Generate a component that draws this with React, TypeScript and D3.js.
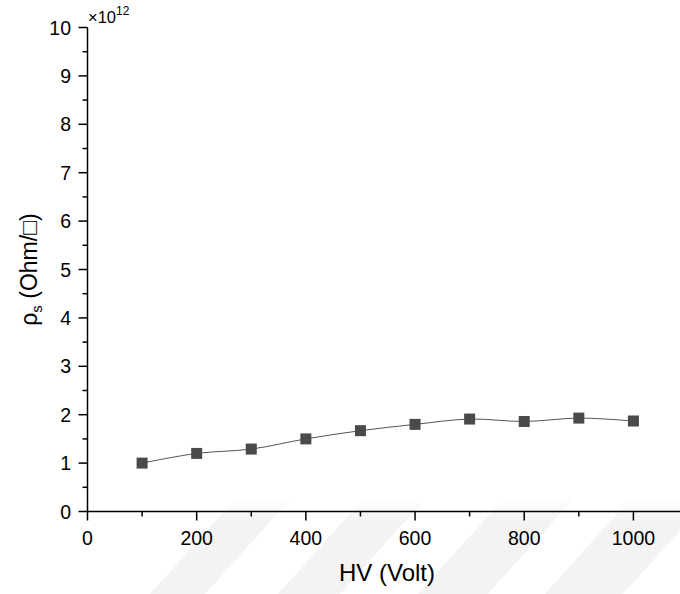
import React from 'react'
import * as d3 from 'd3'

const width = 680
const height = 594

// HV (Volt) vs surface resistivity, values in units of 1e12 Ohm/sq
const voltages = [100, 200, 300, 400, 500, 600, 700, 800, 900, 1000]
const resistivity = [1.0, 1.2, 1.29, 1.5, 1.67, 1.8, 1.91, 1.86, 1.93, 1.87]
const xTicks = [0, 200, 400, 600, 800, 1000]
const yTicks = [0, 1, 2, 3, 4, 5, 6, 7, 8, 9, 10]

const x = d3.scaleLinear().domain([0, 1100]).range([87.5, 688])
const y = d3.scaleLinear().domain([0, 10]).range([511.5, 27.5])

const font = '"Liberation Sans", Arial, sans-serif'

// faint watermark bands along the bottom edge: [left, right] at the bottom
const stripes: [number, number][] = [
    [150, 205],
    [278, 340],
    [418, 488],
    [545, 623],
]

const App = () => {
    const pts: [number, number][] = voltages.map((v, i) => [x(v), y(resistivity[i])])
    const line = d3.line().curve(d3.curveCatmullRom.alpha(0.5))(pts) || ''
    const xMinor = d3.range(100, 1100, 200)
    const yMinor = d3.range(0.5, 10, 1)
    const x0 = x(0)
    const y0 = y(0)

    return (
        <svg width={width} height={height} style={{ position: 'absolute', left: 0, top: 0 }}>
            <defs>
                <linearGradient id="fade" x1="0" y1="0" x2="0" y2="1">
                    <stop offset="0" stopColor="#f3f3f3" stopOpacity={0} />
                    <stop offset="0.25" stopColor="#f3f3f3" stopOpacity={1} />
                    <stop offset="1" stopColor="#f3f3f3" stopOpacity={1} />
                </linearGradient>
            </defs>
            <rect width={width} height={height} fill="#fff" />
            {stripes.map(([a, b], i) => (
                <polygon
                    key={i}
                    points={`${a},${height} ${b},${height} ${b + 88},${496} ${a + 88},${496}`}
                    fill="url(#fade)"
                />
            ))}

            {/* x axis */}
            <line x1={x0} x2={width} y1={y0} y2={y0} stroke="#000" strokeWidth={1.5} />
            {xTicks.map(t => (
                <g key={t}>
                    <line x1={x(t)} x2={x(t)} y1={y0} y2={y0 + 9} stroke="#000" strokeWidth={1.5} />
                    <text x={x(t)} y={545} textAnchor="middle" fontFamily={font} fontSize={19.5}>
                        {t}
                    </text>
                </g>
            ))}
            {xMinor.map(t => (
                <line key={t} x1={x(t)} x2={x(t)} y1={y0} y2={y0 + 5} stroke="#000" strokeWidth={1.5} />
            ))}
            <text x={387} y={581} textAnchor="middle" fontFamily={font} fontSize={24}>
                HV (Volt)
            </text>

            {/* y axis */}
            <line x1={x0} x2={x0} y1={y(10)} y2={y0} stroke="#000" strokeWidth={1.5} />
            {yTicks.map(t => (
                <g key={t}>
                    <line x1={x0 - 9} x2={x0} y1={y(t)} y2={y(t)} stroke="#000" strokeWidth={1.5} />
                    <text
                        x={71}
                        y={y(t)}
                        dy="0.36em"
                        textAnchor="end"
                        fontFamily={font}
                        fontSize={19.5}
                    >
                        {t}
                    </text>
                </g>
            ))}
            {yMinor.map(t => (
                <line key={t} x1={x0 - 5} x2={x0} y1={y(t)} y2={y(t)} stroke="#000" strokeWidth={1.5} />
            ))}
            <text x={88} y={23} fontFamily={font} fontSize={16.5}>
                ×10
                <tspan fontSize={12} dy={-8}>
                    12
                </tspan>
            </text>
            <text
                transform={`translate(37, ${y(5)}) rotate(-90)`}
                textAnchor="middle"
                fontFamily={font}
                fontSize={23}
            >
                ρ
                <tspan fontSize={15} dy={5}>
                    s
                </tspan>
                <tspan dy={-5}> (Ohm/□)</tspan>
            </text>

            {/* data */}
            <path d={line} fill="none" stroke="#555" strokeWidth={1} />
            {pts.map((p, i) => (
                <rect key={i} x={p[0] - 5.5} y={p[1] - 5.5} width={11} height={11} fill="#4a4a4a" />
            ))}
        </svg>
    )
}

export default App
